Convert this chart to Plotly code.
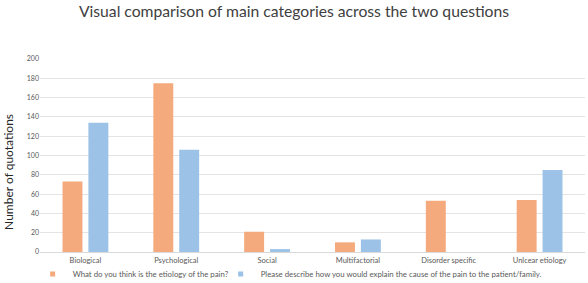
import plotly.graph_objects as go

categories = ["Biological", "Psychological", "Social", "Multifactorial", "Disorder specific", "Unlcear etiology"]
etiology_values = [73, 175, 21, 10, 53, 54]
explain_values = [134, 106, 3, 13, 0, 85]
series_names = ["What do you think is the etiology of the pain?",
                "Please describe how you would explain the cause of the pain to the patient/family."]
series_colors = ["#F4AA7D", "#9CC2E7"]
y_ticks = [0, 20, 40, 60, 80, 100, 120, 140, 160, 180, 200]

FONT = "Lato"
fig = go.Figure()
for vals, name, col in zip([etiology_values, explain_values], series_names, series_colors):
    fig.add_trace(go.Bar(x=categories, y=vals, name=name, showlegend=False,
                         marker=dict(color=col, line=dict(width=0))))
# legend entries with small square symbols (as in the reference), one legend each
for name, col, leg in zip(series_names, series_colors, ["legend", "legend2"]):
    fig.add_trace(go.Scatter(x=[None], y=[None], mode="markers", name=name, legend=leg,
                             marker=dict(symbol="square", size=5, color=col),
                             showlegend=True, hoverinfo="skip"))

legend_common = dict(orientation="h", xanchor="left", y=-0.039, yanchor="top",
                     font=dict(family=FONT, size=7.8, color="#595959"),
                     itemwidth=30, itemsizing="trace", bgcolor="rgba(0,0,0,0)")

fig.update_layout(
    width=588, height=283,
    margin=dict(l=40, r=3, t=59, b=31, autoexpand=False),
    paper_bgcolor="white", plot_bgcolor="white",
    title=dict(text="Visual comparison of main categories across the two questions",
               x=0.5, xanchor="center", y=0.96, yanchor="middle",
               font=dict(family=FONT, size=15.7, color="#404040")),
    barmode="group", bargap=0.43, bargroupgap=0.23,
    showlegend=True,
    legend=dict(x=-0.0135, **legend_common),
    legend2=dict(x=0.3315, **legend_common),
    font=dict(family=FONT),
    annotations=[dict(text="Number of quotations", xref="paper", yref="paper",
                      x=(9 - 40) / 545, y=0.415, textangle=-90, showarrow=False,
                      xanchor="center", yanchor="middle",
                      font=dict(family=FONT, size=12, color="#262626"))],
)
fig.update_xaxes(showgrid=False, showline=True, linecolor="#d9d9d9", linewidth=1,
                 automargin=False, ticks="", ticklabelstandoff=1,
                 tickfont=dict(family=FONT, size=7.5, color="#595959"))
fig.update_yaxes(range=[0, 200], tickvals=y_ticks, showgrid=True, gridcolor="#e4e4e4",
                 gridwidth=1, zeroline=False, showline=False, ticks="", automargin=False,
                 tickfont=dict(family=FONT, size=7, color="#595959"))

fig.write_html("out.html", config={"displayModeBar": False},
               post_script="document.body.style.margin='0';document.body.style.overflow='hidden';")
